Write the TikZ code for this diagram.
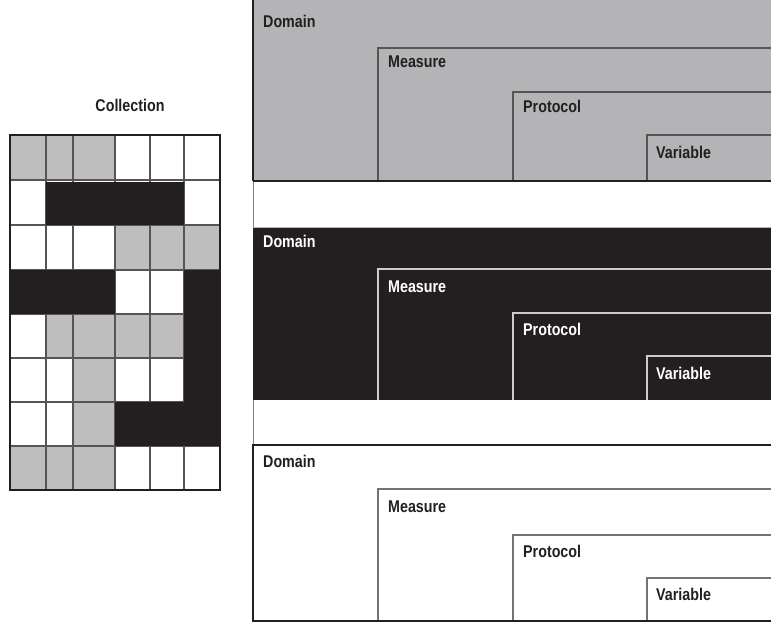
\documentclass[tikz,border=0pt]{standalone}
\usepackage{fontspec}
\setmainfont{Liberation Sans}[FakeStretch=0.84]
\definecolor{pgray}{HTML}{B4B4B6}
\definecolor{cgray}{HTML}{BEBEBE}
\definecolor{ink}{HTML}{231F20}
\definecolor{gline}{HTML}{555555}
\tikzset{
  lbl/.style={font=\bfseries\fontsize{17}{19}\selectfont, inner sep=0pt, anchor=west},
  inbox/.style={line width=1.2pt},
}
\begin{document}
\begin{tikzpicture}[x=1pt,y=-1pt]
\useasboundingbox (0,0) rectangle (771,625);
\clip (0,0) rectangle (771,625);
% ---------- Collection grid ----------
\node[lbl, anchor=center, text=ink] (coll) at (130,105) {Collection};
% row 0
\fill[cgray] (10,135) rectangle (115,180);
% row 2
\fill[cgray] (115,225) rectangle (220,270);
% row 4
\fill[cgray] (46,314) rectangle (184,358);
% rows 5-6 col 2
\fill[cgray] (73,358) rectangle (115,446);
% row 7
\fill[cgray] (10,446) rectangle (115,490);
% grid lines
\foreach \x in {46,73,115,150,184} \draw[gline, line width=1.3pt] (\x,135) -- (\x,490);
\foreach \y in {180,225,270,314,358,402,446} \draw[gline, line width=1.3pt] (10,\y) -- (220,\y);
% black merged regions
\fill[ink] (46,182) rectangle (184,225);
\fill[ink] (10,270) rectangle (115,314);
\fill[ink] (184,270) rectangle (220,446);
\fill[ink] (115,402) rectangle (220,446);
% outer border
\draw[ink, line width=2.8pt] (10,135) rectangle (220,490);
% ---------- left thin line ----------
\draw[gray, line width=1pt] (253,0) -- (253,622);
% ---------- Panel 1 (gray) ----------
\fill[pgray] (253,0) rectangle (775,181);
\draw[ink, line width=1.6pt] (253,0) -- (253,181);
\draw[gline, inbox] (378,181) -- (378,48) -- (775,48);
\draw[gline, inbox] (513,181) -- (513,92) -- (775,92);
\draw[gline, inbox] (647,181) -- (647,135) -- (775,135);
\draw[ink, line width=2.6pt] (253,181) -- (775,181);
\node[lbl, text=ink] (d1) at (263,21) {Domain};
\node[lbl, text=ink] (m1) at (388,62) {Measure};
\node[lbl, text=ink] (p1) at (523,106) {Protocol};
\node[lbl, text=ink] (v1) at (656,152) {Variable};
% ---------- Panel 2 (black) ----------
\fill[ink] (253,227) rectangle (775,400);
\draw[gray!60, line width=1pt] (253,227) -- (775,227);
\draw[gray!40, inbox] (378,400) -- (378,269) -- (775,269);
\draw[gray!40, inbox] (513,400) -- (513,313) -- (775,313);
\draw[gray!40, inbox] (647,400) -- (647,356) -- (775,356);
\node[lbl, text=white] (d2) at (263,241) {Domain};
\node[lbl, text=white] (m2) at (388,287) {Measure};
\node[lbl, text=white] (p2) at (523,329) {Protocol};
\node[lbl, text=white] (v2) at (656,373) {Variable};
% ---------- Panel 3 (white) ----------
\draw[gray!90!black, inbox] (378,621) -- (378,489) -- (775,489);
\draw[gray!90!black, inbox] (513,621) -- (513,535) -- (775,535);
\draw[gray!90!black, inbox] (647,621) -- (647,578) -- (775,578);
\draw[ink, line width=2.6pt] (775,445) -- (253,445) -- (253,621) -- (775,621);
\node[lbl, text=ink] (d3) at (263,461) {Domain};
\node[lbl, text=ink] (m3) at (388,507) {Measure};
\node[lbl, text=ink] (p3) at (523,551) {Protocol};
\node[lbl, text=ink] (v3) at (656,594) {Variable};
\end{tikzpicture}
\end{document}
